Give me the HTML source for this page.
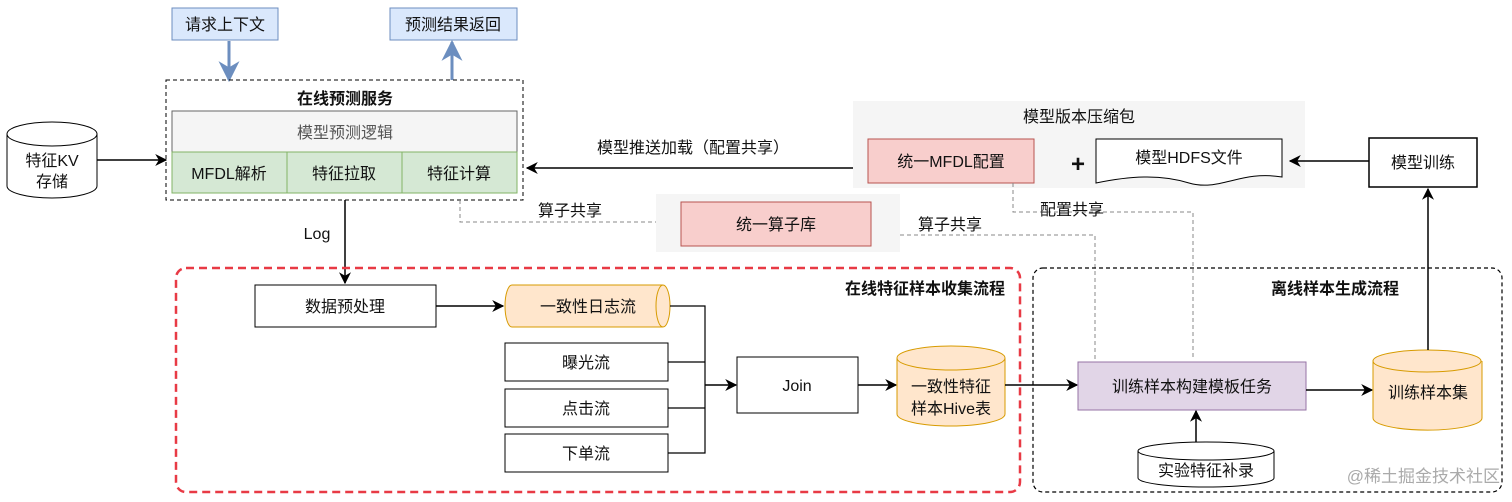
<!DOCTYPE html>
<html><head><meta charset="utf-8"><style>
html,body{margin:0;padding:0;background:#fff;width:1512px;height:502px;overflow:hidden}
text{font-family:"Liberation Sans","Noto Sans CJK SC",sans-serif;font-size:16px;fill:#111}
</style></head><body>
<svg width="1512" height="502" viewBox="0 0 1512 502" xmlns="http://www.w3.org/2000/svg">
<defs>
<marker id="a" viewBox="0 0 10 10" refX="9" refY="5" markerWidth="8" markerHeight="8" orient="auto"><path d="M0,0 L10,5 L0,10 L3,5 z" fill="#000"/></marker>
<marker id="b" viewBox="0 0 10 10" refX="9" refY="5" markerWidth="7" markerHeight="7" orient="auto"><path d="M0,0 L10,5 L0,10 L3,5 z" fill="#6c8ebf"/></marker>
</defs>
<!-- top request boxes -->
<rect x="172" y="8" width="106" height="32" fill="#dae8fc" stroke="#6c8ebf"/>
<text x="225" y="30" text-anchor="middle">请求上下文</text>
<rect x="390" y="8" width="127" height="32" fill="#dae8fc" stroke="#6c8ebf"/>
<text x="453" y="30" text-anchor="middle">预测结果返回</text>
<line x1="229" y1="41" x2="229" y2="80" stroke="#6c8ebf" stroke-width="3" marker-end="url(#b)"/>
<line x1="452" y1="80" x2="452" y2="42" stroke="#6c8ebf" stroke-width="3" marker-end="url(#b)"/>
<!-- service -->
<rect x="166" y="80" width="357" height="120" fill="none" stroke="#000" stroke-dasharray="4,3"/>
<text x="345" y="104" text-anchor="middle" font-weight="bold">在线预测服务</text>
<rect x="172" y="111" width="345" height="41" fill="#f5f5f5" stroke="#666"/>
<text x="345" y="138" text-anchor="middle" style="fill:#555">模型预测逻辑</text>
<rect x="172" y="152" width="115" height="41" fill="#d5e8d4" stroke="#82b366"/>
<rect x="287" y="152" width="115" height="41" fill="#d5e8d4" stroke="#82b366"/>
<rect x="402" y="152" width="115" height="41" fill="#d5e8d4" stroke="#82b366"/>
<text x="229" y="179" text-anchor="middle">MFDL解析</text>
<text x="344" y="179" text-anchor="middle">特征拉取</text>
<text x="459" y="179" text-anchor="middle">特征计算</text>
<!-- KV cylinder -->
<path d="M7,134 L7,186 A45,12 0 0 0 97,186 L97,134" fill="#fff" stroke="#000"/>
<ellipse cx="52" cy="134" rx="45" ry="12" fill="#fff" stroke="#000"/>
<text x="52" y="166" text-anchor="middle">特征KV</text>
<text x="52" y="187" text-anchor="middle">存储</text>
<line x1="97" y1="160" x2="166" y2="160" stroke="#000" stroke-width="1.5" marker-end="url(#a)"/>
<!-- model version group -->
<rect x="853" y="101" width="452" height="87" fill="#f5f5f5"/>
<text x="1079" y="122" text-anchor="middle">模型版本压缩包</text>
<rect x="868" y="139" width="166" height="44" fill="#f8cecc" stroke="#b85450"/>
<text x="951" y="167" text-anchor="middle">统一MFDL配置</text>
<text x="1078" y="172" text-anchor="middle" font-weight="bold" style="font-size:24px">+</text>
<path d="M1096,139 L1282,139 L1282,177 C1240,170 1220,192 1189,183 C1160,174 1130,176 1096,183 Z" fill="#fff" stroke="#000"/>
<text x="1189" y="163" text-anchor="middle">模型HDFS文件</text>
<rect x="1369" y="138" width="108" height="49" fill="#fff" stroke="#000" stroke-width="1.5"/>
<text x="1423" y="168" text-anchor="middle">模型训练</text>
<line x1="1369" y1="161" x2="1290" y2="161" stroke="#000" stroke-width="1.5" marker-end="url(#a)"/>
<line x1="853" y1="168" x2="527" y2="168" stroke="#000" stroke-width="1.5" marker-end="url(#a)"/>
<text x="693" y="153" text-anchor="middle">模型推送加载（配置共享）</text>
<!-- operator lib -->
<rect x="656" y="194" width="244" height="58" fill="#f5f5f5"/>
<rect x="681" y="202" width="190" height="44" fill="#f8cecc" stroke="#b85450"/>
<text x="776" y="230" text-anchor="middle">统一算子库</text>
<g fill="none" stroke="#888" stroke-dasharray="4,3">
<path d="M460,200 L460,222 L656,222"/>
<path d="M900,235 L1095,235 L1095,360"/>
<path d="M1013,183 L1013,212 L1193,212 L1193,360"/>
</g>
<text x="570" y="216" text-anchor="middle">算子共享</text>
<text x="950" y="230" text-anchor="middle">算子共享</text>
<text x="1072" y="215" text-anchor="middle">配置共享</text>
<!-- log -->
<line x1="345" y1="200" x2="345" y2="283" stroke="#000" stroke-width="1.5" marker-end="url(#a)"/>
<text x="317" y="239" text-anchor="middle">Log</text>
<!-- online group -->
<rect x="176" y="268" width="844" height="224" rx="10" fill="none" stroke="#e83a45" stroke-width="2.5" stroke-dasharray="8,5"/>
<text x="1005" y="294" text-anchor="end" font-weight="bold">在线特征样本收集流程</text>
<rect x="1033" y="268" width="469" height="224" rx="10" fill="none" stroke="#000" stroke-width="1.2" stroke-dasharray="4,3"/>
<text x="1335" y="294" text-anchor="middle" font-weight="bold">离线样本生成流程</text>
<rect x="255" y="285" width="181" height="42" fill="#fff" stroke="#000"/>
<text x="345" y="312" text-anchor="middle">数据预处理</text>
<line x1="436" y1="306" x2="503" y2="306" stroke="#000" stroke-width="1.5" marker-end="url(#a)"/>
<path d="M512,285 L663,285 A7,21 0 0 1 663,327 L512,327 A7,21 0 0 1 512,285 Z" fill="#ffe6cc" stroke="#d79b00"/>
<path d="M663,285 A7,21 0 0 0 663,327" fill="none" stroke="#d79b00"/>
<text x="588" y="312" text-anchor="middle">一致性日志流</text>
<rect x="505" y="343" width="163" height="38" fill="#fff" stroke="#000"/>
<text x="586" y="368" text-anchor="middle">曝光流</text>
<rect x="505" y="389" width="163" height="38" fill="#fff" stroke="#000"/>
<text x="586" y="414" text-anchor="middle">点击流</text>
<rect x="505" y="434" width="163" height="38" fill="#fff" stroke="#000"/>
<text x="586" y="459" text-anchor="middle">下单流</text>
<g stroke="#000" fill="none" stroke-width="1.2">
<path d="M670,306 L705,306 L705,453 L668,453"/>
<path d="M668,362 L705,362"/><path d="M668,408 L705,408"/>
</g>
<line x1="705" y1="385" x2="736" y2="385" stroke="#000" stroke-width="1.5" marker-end="url(#a)"/>
<rect x="737" y="357" width="121" height="56" fill="#fff" stroke="#000"/>
<text x="797" y="391" text-anchor="middle">Join</text>
<line x1="858" y1="385" x2="896" y2="385" stroke="#000" stroke-width="1.5" marker-end="url(#a)"/>
<path d="M897,358 L897,414 A54,12 0 0 0 1005,414 L1005,358" fill="#ffe6cc" stroke="#d79b00"/>
<ellipse cx="951" cy="358" rx="54" ry="12" fill="#ffe6cc" stroke="#d79b00"/>
<text x="951" y="392" text-anchor="middle">一致性特征</text>
<text x="951" y="414" text-anchor="middle">样本Hive表</text>
<line x1="1005" y1="385" x2="1077" y2="385" stroke="#000" stroke-width="1.5" marker-end="url(#a)"/>
<rect x="1078" y="362" width="228" height="48" fill="#e1d5e7" stroke="#9673a6"/>
<text x="1192" y="392" text-anchor="middle">训练样本构建模板任务</text>
<line x1="1306" y1="390" x2="1372" y2="390" stroke="#000" stroke-width="1.5" marker-end="url(#a)"/>
<path d="M1373,361 L1373,418 A54,12 0 0 0 1482,418 L1482,361" fill="#ffe6cc" stroke="#d79b00"/>
<ellipse cx="1427" cy="361" rx="54" ry="11" fill="#ffe6cc" stroke="#d79b00"/>
<text x="1428" y="398" text-anchor="middle">训练样本集</text>
<line x1="1428" y1="350" x2="1428" y2="189" stroke="#000" stroke-width="1.5" marker-end="url(#a)"/>
<path d="M1138,451 L1138,478 A68,9 0 0 0 1274,478 L1274,451" fill="#fff" stroke="#000"/>
<ellipse cx="1206" cy="451" rx="68" ry="9" fill="#fff" stroke="#000"/>
<text x="1206" y="476" text-anchor="middle">实验特征补录</text>
<line x1="1196" y1="442" x2="1196" y2="411" stroke="#000" stroke-width="1.5" marker-end="url(#a)"/>
<text x="1500" y="482" text-anchor="end" style="fill:#aaa;font-size:17px">@稀土掘金技术社区</text>
</svg>
</body></html>
